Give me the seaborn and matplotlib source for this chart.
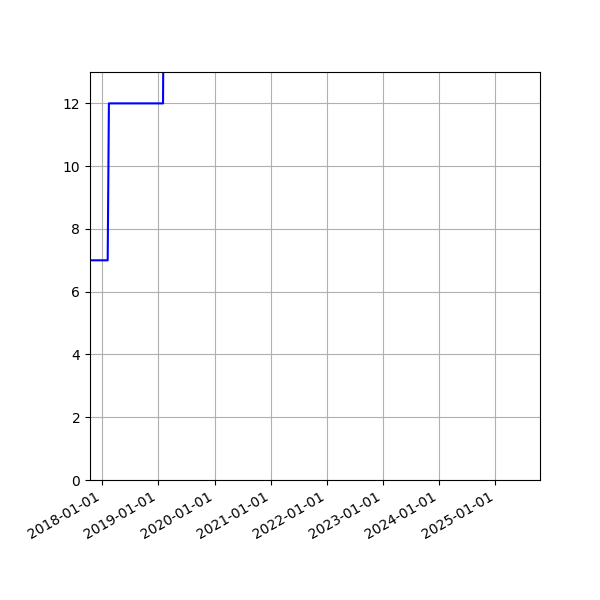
import matplotlib
matplotlib.use("Agg")
import matplotlib.pyplot as plt
import matplotlib.dates as mdates
import seaborn as sns
import pandas as pd

dates = ["2017-09-01", "2018-02-05", "2018-02-13", "2019-01-31", "2019-02-07", "2025-12-31"]
values = [7, 7, 12, 12, 18, 18]

df = pd.DataFrame({"date": pd.to_datetime(dates), "value": values})

fig = plt.figure(figsize=(6, 6), dpi=100)
ax = fig.add_axes([0.15, 0.2, 0.75, 0.68])
sns.lineplot(data=df, x="date", y="value", color="blue", linewidth=1.5, ax=ax)
ax.set_xlim(pd.Timestamp("2017-10-13"), pd.Timestamp("2025-10-18"))
ax.set_ylim(0, 13)
ax.set_yticks([0, 2, 4, 6, 8, 10, 12])
ax.xaxis.set_major_locator(mdates.YearLocator())
ax.xaxis.set_major_formatter(mdates.DateFormatter("%Y-%m-%d"))
ax.grid(True, color="#b0b0b0", linewidth=0.8)
ax.set_axisbelow(True)
ax.set_xlabel("")
ax.set_ylabel("")
for lab in ax.get_xticklabels():
    lab.set_rotation(30)
    lab.set_ha("right")
fig.savefig("out.png", dpi=100)
